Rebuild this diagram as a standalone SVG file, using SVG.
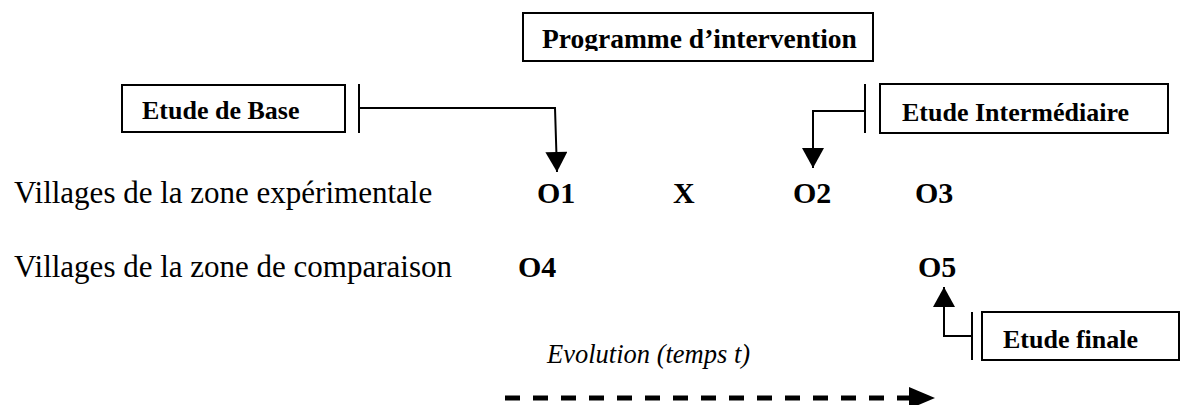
<svg xmlns="http://www.w3.org/2000/svg" width="1182" height="405" viewBox="0 0 1182 405">
<style>
.box{fill:#fff;stroke:#000;stroke-width:2}
.bl{font-family:"Liberation Serif","Times New Roman",serif;font-weight:bold;font-size:26px;fill:#000}
.ob{font-family:"Liberation Serif","Times New Roman",serif;font-weight:bold;font-size:30px;fill:#000}
.rg{font-family:"Liberation Serif","Times New Roman",serif;font-size:31px;fill:#000}
.it{font-family:"Liberation Serif","Times New Roman",serif;font-style:italic;font-size:26.5px;fill:#000}
.ln{fill:none;stroke:#000;stroke-width:2}
</style>
<defs>
<marker id="ah" markerUnits="userSpaceOnUse" markerWidth="22" markerHeight="22" viewBox="0 0 20 22" refX="20" refY="11" orient="auto">
<path d="M0,0 L20,11 L0,22 Z" fill="#000"/>
</marker>
<marker id="ahd" markerUnits="userSpaceOnUse" markerWidth="26" markerHeight="22" viewBox="0 0 26 22" refX="26" refY="11" orient="auto">
<path d="M0,0 L26,11 L0,22 Z" fill="#000"/>
</marker>
<clipPath id="pc"><rect x="523" y="13" width="350" height="38"/></clipPath>
</defs>
<g id="prog">
<rect class="box" x="523" y="13" width="350" height="48"/>
<text class="bl" style="font-size:27.5px" x="542" y="48" clip-path="url(#pc)">Programme d’intervention</text>
</g>
<g id="base">
<rect class="box" x="122" y="85" width="223" height="47"/>
<text class="bl" x="142" y="119">Etude de Base</text>
</g>
<g id="inter">
<rect class="box" x="880" y="84" width="288" height="49"/>
<text class="bl" x="902" y="121">Etude Intermédiaire</text>
</g>
<g id="finale">
<rect class="box" x="982" y="312" width="197" height="48"/>
<text class="bl" x="1003" y="348">Etude finale</text>
</g>
<g id="rowlabels">
<text class="rg" x="14" y="203">Villages de la zone expérimentale</text>
<text class="rg" x="14" y="277">Villages de la zone de comparaison</text>
</g>
<g id="O1"><text class="ob" x="537" y="203">O1</text></g>
<g id="X"><text class="ob" x="673" y="203">X</text></g>
<g id="O2"><text class="ob" x="793" y="203">O2</text></g>
<g id="O3"><text class="ob" x="915" y="203">O3</text></g>
<g id="O4"><text class="ob" x="518" y="277">O4</text></g>
<g id="O5"><text class="ob" x="918" y="277">O5</text></g>
<g id="evolution"><text class="it" x="547" y="363">Evolution (temps t)</text></g>
<g id="connectors">
<line class="ln" x1="359" y1="84" x2="359" y2="133"/>
<path class="ln" d="M359,108 H555 L557,172" marker-end="url(#ah)"/>
<line class="ln" x1="865" y1="84" x2="865" y2="133"/>
<path class="ln" d="M865,111 H813 V168" marker-end="url(#ah)"/>
<line class="ln" x1="972" y1="312" x2="972" y2="360"/>
<path class="ln" d="M972,336 H944 V287" marker-end="url(#ah)"/>
<path d="M505,398 H910" fill="none" stroke="#000" stroke-width="5" stroke-dasharray="15 13"/>
<path d="M905,398 H935" fill="none" stroke="#000" stroke-width="5" stroke-opacity="0" marker-end="url(#ahd)"/>
</g>
</svg>
